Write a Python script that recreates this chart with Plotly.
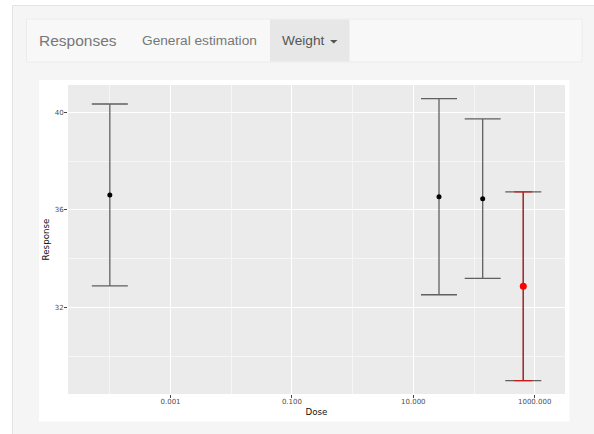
import plotly.graph_objects as go

# Dose groups with mean response and half-width of the interval
dose = [0.0001, 26.5, 139.0, 648.0]
mean_resp = [36.61, 36.54, 36.46, 32.87]
half_width = [3.73, 4.02, 3.27, 3.87]
highlight = [False, False, False, True]

x_tick_vals = [0.001, 0.1, 10, 1000]
x_tick_text = ["0.001", "0.100", "10.000", "1000.000"]
x_minor_vals = [0.0001, 0.01, 1, 100]
y_tick_vals = [32, 36, 40]
y_minor_vals = [30, 34, 38]

W, H = 594, 434
L, R, T, B = 68, 29, 85, 40
PW, PH = W - L - R, H - T - B


def fx(px):
    return (px - L) / PW


def fy(py):
    return (H - B - py) / PH


fig = go.Figure()

base_idx = [i for i, h in enumerate(highlight) if not h]
hi_idx = [i for i, h in enumerate(highlight) if h]

# grey intervals for every group
fig.add_trace(go.Scatter(
    x=dose, y=mean_resp, mode="markers",
    marker=dict(size=0.1, color="rgba(0,0,0,0)"),
    error_y=dict(type="data", array=half_width, symmetric=True,
                 color="rgba(50,50,50,0.75)", thickness=1.3, width=18),
    hoverinfo="skip", showlegend=False,
))
# highlighted group drawn in red on top
fig.add_trace(go.Scatter(
    x=[dose[i] for i in hi_idx], y=[mean_resp[i] for i in hi_idx], mode="markers",
    marker=dict(size=7, color="#ff0000"),
    error_y=dict(type="data", array=[half_width[i] for i in hi_idx], symmetric=True,
                 color="rgba(210,20,20,0.9)", thickness=1.3, width=9),
    showlegend=False,
))
# group means
fig.add_trace(go.Scatter(
    x=[dose[i] for i in base_idx], y=[mean_resp[i] for i in base_idx], mode="markers",
    marker=dict(size=5, color="#000000"),
    showlegend=False,
))

shapes = [
    # outer well
    dict(type="rect", xref="paper", yref="paper", layer="below",
         x0=fx(12.5), x1=fx(610), y0=fy(5.5), y1=fy(450),
         fillcolor="#f5f5f5", line=dict(color="#e3e3e3", width=1)),
    # tab bar
    dict(type="rect", xref="paper", yref="paper", layer="below",
         x0=fx(26.5), x1=fx(582), y0=fy(19), y1=fy(62),
         fillcolor="#f8f8f8", line=dict(color="#ececec", width=1)),
    # active tab
    dict(type="rect", xref="paper", yref="paper", layer="below",
         x0=fx(270), x1=fx(349.5), y0=fy(19.5), y1=fy(61.5),
         fillcolor="#e7e7e7", line=dict(width=0)),
    # white card behind the chart
    dict(type="rect", xref="paper", yref="paper", layer="below",
         x0=fx(39), x1=fx(569.5), y0=fy(80), y1=fy(421.5),
         fillcolor="#ffffff", line=dict(width=0)),
    # grey panel of the chart
    dict(type="rect", xref="paper", yref="paper", layer="below",
         x0=0, x1=1, y0=0, y1=1,
         fillcolor="#ebebeb", line=dict(width=0)),
    # dropdown caret
    dict(type="path", xref="paper", yref="paper", layer="above",
         path=f"M {fx(330)} {fy(40)} L {fx(337.5)} {fy(40)} L {fx(333.75)} {fy(43.5)} Z",
         fillcolor="#555555", line=dict(width=0)),
]

font_ui = "Liberation Sans, Arial, sans-serif"
font_plot = "DejaVu Sans, sans-serif"


def ui_text(text, px, py, size, color):
    return dict(text=text, x=fx(px), y=fy(py), xref="paper", yref="paper",
                xanchor="center", yanchor="middle", showarrow=False,
                font=dict(family=font_ui, size=size, color=color))


annotations = [
    ui_text("Responses", 77.5, 40, 15.5, "#777777"),
    ui_text("General estimation", 199.5, 40, 13.7, "#777777"),
    ui_text("Weight", 303, 40, 13.7, "#555555"),
]

fig.update_layout(
    width=W, height=H,
    margin=dict(l=L, r=R, t=T, b=B, pad=0),
    paper_bgcolor="#ffffff",
    plot_bgcolor="#ebebeb",
    shapes=shapes,
    annotations=annotations,
    font=dict(family=font_plot, color="#4d4d4d"),
)

fig.update_xaxes(
    type="log", range=[-4.689, 3.499],
    tickvals=x_tick_vals, ticktext=x_tick_text,
    tickfont=dict(family=font_plot, size=7, color="#4d4d4d"),
    ticks="outside", ticklen=3, tickcolor="#444444", tickwidth=1,
    ticklabelstandoff=-2,
    showgrid=True, gridcolor="#ffffff", gridwidth=1.1,
    minor=dict(tickvals=x_minor_vals, showgrid=True, gridcolor="#f6f6f6", gridwidth=0.6, ticks=""),
    zeroline=False, showline=False,
    title=dict(text="Dose", font=dict(family=font_plot, size=8.7, color="#111111"), standoff=3),
)
fig.update_yaxes(
    range=[28.45, 41.12],
    tickvals=y_tick_vals, ticktext=[str(v) for v in y_tick_vals],
    tickfont=dict(family=font_plot, size=7, color="#4d4d4d"),
    ticks="outside", ticklen=3, tickcolor="#444444", tickwidth=1,
    ticklabelstandoff=-1,
    showgrid=True, gridcolor="#ffffff", gridwidth=1.1,
    minor=dict(tickvals=y_minor_vals, showgrid=True, gridcolor="#f6f6f6", gridwidth=0.6, ticks=""),
    zeroline=False, showline=False,
    title=dict(text="Response", font=dict(family=font_plot, size=8.7, color="#111111"), standoff=3),
)

fig.write_html("out.html")
